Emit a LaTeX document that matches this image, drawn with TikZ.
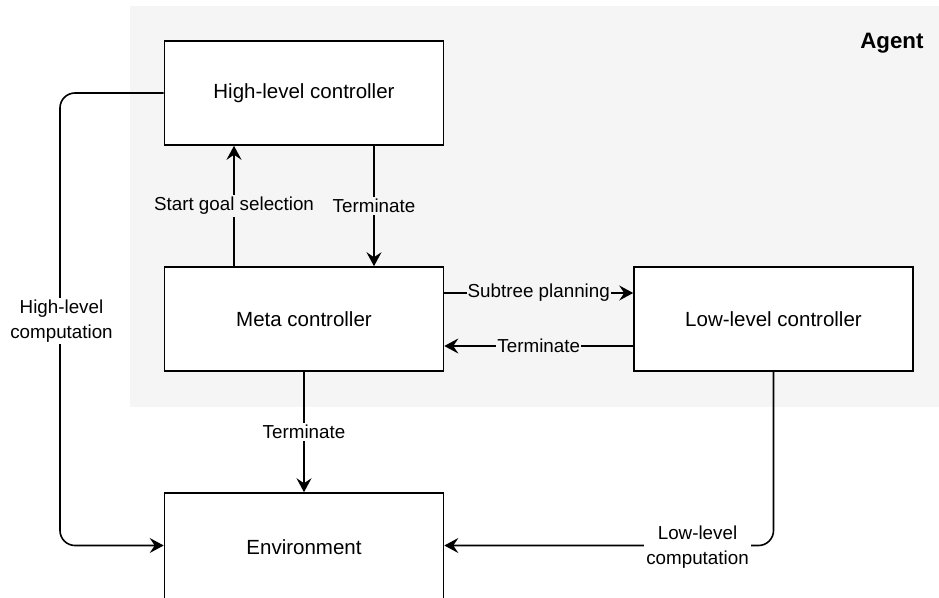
\documentclass[tikz,border=0pt]{standalone}
\usepackage{fontspec}
\setmainfont{Liberation Sans}
\usetikzlibrary{arrows.meta}
\definecolor{agentbg}{HTML}{F5F5F5}
\begin{document}
\begin{tikzpicture}[x=1pt,y=-1pt,
  box/.style={draw, line width=1.6pt, fill=white, minimum width=279pt,
    minimum height=104pt, inner sep=0pt, font=\fontsize{20.5}{24}\selectfont},
  flow/.style={line width=1.6pt, -{Stealth[length=14pt,width=15pt,inset=5pt]}},
  lbl/.style={font=\fontsize{18.8}{25}\selectfont, inner sep=2pt, fill=#1, align=center},
  lbl/.default=agentbg]
  \useasboundingbox (0,0) rectangle (939,597);
  \clip (0,0) rectangle (939,597);

  % agent region
  \fill[agentbg] (130,6) rectangle (939,407);
  \node[anchor=base east, font=\bfseries\fontsize{22.3}{26}\selectfont] (agent) at (927,48.5) {Agent};

  % components
  \node[box] (hlc)  at (304,93)    {High-level controller};
  \node[box] (meta) at (304,319)   {Meta controller};
  \node[box] (llc)  at (773.5,319) {Low-level controller};
  % the environment box runs past the lower edge
  \node[box, minimum height=112pt] (env) at (304,549) {\raisebox{4pt}{Environment}};

  % control flow inside the agent
  \draw[flow] ([xshift=-70pt]meta.north) -- ([xshift=-70pt]hlc.south)
    node[midway, lbl] (lsg) {Start goal selection};
  \draw[flow] ([xshift=70pt]hlc.south) -- ([xshift=70pt]meta.north)
    node[midway, lbl] (lt1) {Terminate};
  \draw[flow] ([yshift=26pt]meta.east) -- ([yshift=26pt]llc.west)
    node[midway, lbl, inner sep=1pt] (lsp) {Subtree planning};
  \draw[flow] ([yshift=-27pt]llc.west) -- ([yshift=-27pt]meta.east)
    node[midway, lbl, inner sep=1pt] (lt2) {Terminate};
  \draw[flow] (meta.south) -- (env.north)
    node[midway, lbl=white] (lt3) {Terminate};

  % computation paths to the environment
  \coordinate (hc1) at (60,93);
  \coordinate (hc2) at (60,545.5);
  \coordinate (envw) at ([yshift=3.5pt]env.west);
  \draw[flow, rounded corners=15pt] (hlc.west) -- (hc1) -- (hc2) -- (envw);
  \node[lbl=white] (lhc) at (61.5,321) {High-level\\computation};

  \coordinate (lc1) at (773.5,545.5);
  \coordinate (enve) at ([yshift=3.5pt]env.east);
  \draw[flow, rounded corners=15pt] (llc.south) -- (lc1) -- (enve);
  \node[lbl=white] (llcomp) at (697.5,547) {Low-level\\computation};
\end{tikzpicture}
\end{document}
